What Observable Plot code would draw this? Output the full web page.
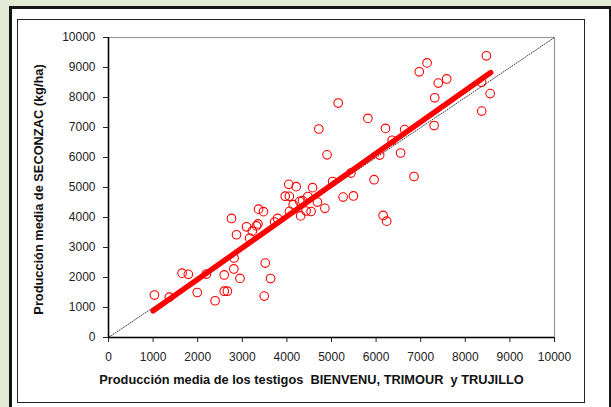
<!DOCTYPE html>
<html>
<head>
<meta charset="utf-8">
<script src="https://cdn.jsdelivr.net/npm/d3@7"></script>
<script src="https://cdn.jsdelivr.net/npm/@observablehq/plot@0.6"></script>
<style>
  html, body { margin: 0; padding: 0; }
  body { width: 611px; height: 407px; background: #e3ead6; position: relative; overflow: hidden; font-family: "Liberation Sans", Arial, sans-serif; }
  #outer { position: absolute; left: 9px; top: 6px; width: 597px; height: 420px; background: #fff; border-left: 3px solid #151515; border-top: 3px solid #151515; border-right: 2px solid #151515; }
  #inner { position: absolute; left: 17px; top: 19px; width: 566px; height: 382px; border: 1.5px solid #222; }
  #chart { position: absolute; left: 0; top: 0; }
</style>
</head>
<body>
<div id="outer"></div>
<div id="inner"></div>
<div id="chart"></div>
<script>
const xs = [1030,1365,1650,1790,1990,2195,2390,2595,2595,2665,2758,2810,2815,2870,2948,3095,3165,3225,3318,3350,3365,3475,3492,3515,3635,3725,3792,3962,4042,4055,4058,4140,4208,4288,4308,4350,4430,4470,4542,4575,4683,4716,4852,4900,5025,5150,5260,5435,5492,5815,5955,6080,6158,6210,6237,6360,6550,6640,6850,6967,7143,7300,7315,7394,7583,8367,8367,8473,8557];
const ys = [1415,1345,2145,2105,1500,2115,1225,2085,1543,1543,3968,2285,2650,3425,1970,3690,3312,3545,3720,3785,4278,4195,1380,2480,1965,3850,3968,4710,5105,4705,4205,4428,5028,4538,4052,4562,4217,4700,4200,4995,4515,6950,4306,6088,5200,7815,4680,5482,4718,7303,5260,6082,4068,6970,3878,6575,6150,6930,5366,8857,9152,7065,7990,8480,8618,7548,8506,9390,8130];
const fitX = [1000, 8570];
const fitY = [890, 8830];
const diagX = [0, 10000];
const diagY = [0, 10000];
const xTicks = [0,1000,2000,3000,4000,5000,6000,7000,8000,9000,10000];
const yTicks = [0,1000,2000,3000,4000,5000,6000,7000,8000,9000,10000];
const xTitle = "Producción media de los testigos  BIENVENU, TRIMOUR  y TRUJILLO";
const yTitle = "Producción media de SECONZAC (kg/ha)";

const points = xs.map((x, i) => ({x, y: ys[i]}));
const fit = fitX.map((x, i) => ({x, y: fitY[i]}));
const diag = diagX.map((x, i) => ({x, y: diagY[i]}));

const chart = Plot.plot({
  width: 611,
  height: 407,
  marginLeft: 108,
  marginRight: 57,
  marginTop: 37,
  marginBottom: 70,
  style: {background: "transparent", fontFamily: "'Liberation Sans', Arial, sans-serif", fontSize: "12px", color: "#222"},
  x: {domain: [0, 10000]},
  y: {domain: [0, 10000]},
  marks: [
    Plot.frame({stroke: "#9a9a9a", strokeWidth: 1.2}),
    Plot.line(diag, {x: "x", y: "y", stroke: "#222", strokeWidth: 0.9, strokeDasharray: "1,1.6"}),
    Plot.dot(points, {x: "x", y: "y", r: 4.3, stroke: "#ff0000", strokeWidth: 1.1, fill: "none"}),
    Plot.line(fit, {x: "x", y: "y", stroke: "#ff0000", strokeWidth: 5.5, strokeLinecap: "round"}),
    Plot.ruleX([0], {stroke: "#000", strokeWidth: 1.5}),
    Plot.ruleY([0], {stroke: "#000", strokeWidth: 1.5}),
    Plot.axisX({ticks: xTicks, tickSize: 5, tickPadding: 10, tickFormat: d3.format("d"), label: null, fontSize: 12}),
    Plot.axisY({ticks: yTicks, tickSize: 5, tickPadding: 8, tickFormat: d3.format("d"), label: null, fontSize: 12}),
    Plot.text([xTitle], {frameAnchor: "bottom", dx: -20, dy: 46, fontWeight: "bold", fontSize: 12.8, fill: "#111"}),
    Plot.text([yTitle], {frameAnchor: "left", dx: -70, dy: 2, rotate: -90, textAnchor: "middle", fontWeight: "bold", fontSize: 12.8, fill: "#111"})
  ]
});
document.getElementById("chart").appendChild(chart);
</script>
</body>
</html>
